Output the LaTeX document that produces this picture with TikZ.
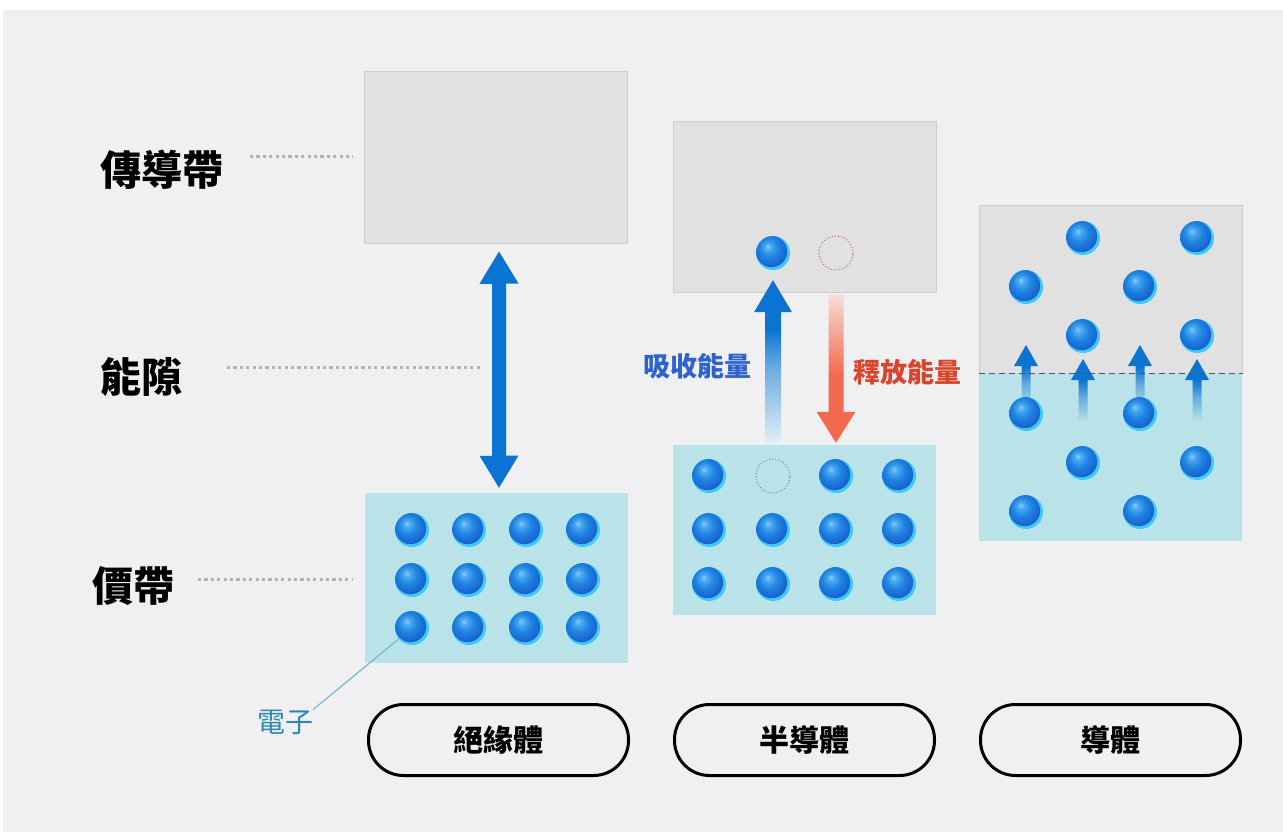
\documentclass[tikz,border=0pt]{standalone}
\usepackage{fontspec}
\newfontfamily\cjk{Noto Sans CJK TC}
\usetikzlibrary{calc}
\definecolor{bgpanel}{HTML}{F0F0F2}
\definecolor{cbfill}{HTML}{E1E1E1}
\definecolor{cbline}{HTML}{CDCDCD}
\definecolor{vbfill}{HTML}{B9E3E8}
\definecolor{aBlue}{HTML}{0B74D2}
\definecolor{aRed}{HTML}{F26A4E}
\definecolor{upEnd}{HTML}{E2F0F5}
\definecolor{dnEnd}{HTML}{F6DDD8}
\definecolor{eHi}{HTML}{86CDFB}
\definecolor{eLt}{HTML}{4AA8F0}
\definecolor{eMid}{HTML}{1E84E2}
\definecolor{eDeep}{HTML}{1A5CCB}
\definecolor{eRim}{HTML}{3CCBF5}
\definecolor{txtBlue}{HTML}{2E62CF}
\definecolor{txtRed}{HTML}{D8452C}
\definecolor{txtTeal}{HTML}{2E88AC}
\definecolor{lnTeal}{HTML}{72BACB}
\definecolor{dotGray}{HTML}{B3B3B6}
\definecolor{holeBrown}{HTML}{C0785A}
\definecolor{holeTeal}{HTML}{5E9FB0}
\definecolor{dashGray}{HTML}{4A5560}
\colorlet{upMid}{aBlue!55!upEnd}
\colorlet{smMid}{aBlue!50!vbfill}
\pgfdeclareradialshading{ebody}{\pgfpoint{-8bp}{10bp}}{color(0bp)=(eHi); color(5bp)=(eLt); color(14bp)=(eMid); color(27bp)=(eDeep); color(60bp)=(eDeep)}
\pgfdeclareverticalshading{upfade}{100bp}{color(0bp)=(upEnd); color(25bp)=(upEnd); color(48bp)=(upMid); color(60bp)=(aBlue); color(100bp)=(aBlue)}
\pgfdeclareverticalshading{smfade}{100bp}{color(0bp)=(vbfill); color(25bp)=(vbfill); color(45bp)=(smMid); color(58bp)=(aBlue); color(100bp)=(aBlue)}
\pgfdeclareverticalshading{dnfade}{100bp}{color(0bp)=(aRed); color(48bp)=(aRed); color(75bp)=(dnEnd); color(100bp)=(dnEnd)}
% gradient arrow: shading, tip, half head, head length, half shaft, shaft length
\newcommand\garrow[6]{\shade[shading=#1] (#2) -- ++(#3,#4) -- ++({-(#3-#5)},0) -- ++(0,#6) -- ++({-2*#5},0) -- ++(0,{-(#6)}) -- ++({-(#3-#5)},0) -- cycle;}
\tikzset{
  cbox/.style={rectangle, fill=cbfill, draw=cbline, line width=1pt, minimum width=263pt, inner sep=0pt},
  vbox/.style={rectangle, fill=vbfill, minimum width=263pt, inner sep=0pt},
  electron/.style={circle, minimum size=34pt, inner sep=0pt, fill=eRim,
    path picture={\shade[shading=ebody] ([xshift=-1.4pt,yshift=1.4pt]path picture bounding box.center) circle[radius=15.6pt];}},
  hole/.style={circle, minimum size=34pt, inner sep=0pt, draw=#1, line width=1.5pt, dash pattern=on 0pt off 3pt, line cap=round},
  pill/.style={draw=black, line width=3pt, rounded corners=35pt, minimum width=260pt, minimum height=71pt, inner sep=0pt, font=\cjk\bfseries\fontsize{30}{30}\selectfont},
  biglabel/.style={inner sep=0pt, font=\cjk\bfseries\fontsize{41}{41}\selectfont, text=black},
  energylabel/.style={inner sep=0pt, font=\cjk\bfseries\fontsize{27}{27}\selectfont},
  dotline/.style={draw=dotGray, line width=3pt, dash pattern=on 3.2pt off 3.2pt},
}
\begin{document}
\begin{tikzpicture}[x=1pt,y=-1pt]
\useasboundingbox (0,0) rectangle (1283,832);
\fill[white] (0,0) rectangle (1283,832);
\fill[bgpanel] (3,10) rectangle (1283,832);

% left labels
\node[biglabel] (lc) at (162,170) {傳導帶};
\node[biglabel] (lg) at (141,377) {能隙};
\node[biglabel] (lv) at (133,586) {價帶};
\coordinate (d1a) at (250,157); \coordinate (d1b) at (353,157);
\coordinate (d2a) at (227,367); \coordinate (d2b) at (482,367);
\coordinate (d3a) at (198,579); \coordinate (d3b) at (352,579);
\draw[dotline] (d1a) -- (d1b);
\draw[dotline] (d2a) -- (d2b);
\draw[dotline] (d3a) -- (d3b);

% insulator
\node[cbox, minimum height=171pt] (ic) at (496,157.5) {};
\node[vbox, minimum height=170pt] (iv) at (496,578) {};
\coordinate (gapTop) at ([xshift=3pt,yshift=-8pt]ic.south);
\coordinate (gapBot) at ([xshift=3pt,yshift=5pt]iv.north);
\fill[aBlue] (gapTop) -- ++(19.5,32) -- ++(-12.5,0) -- ++(0,172) -- ++(12.5,0) -- (gapBot)
  -- ++(-19.5,-32) -- ++(12.5,0) -- ++(0,-172) -- ++(-12.5,0) -- cycle;
\foreach \r/\y in {1/530,2/580,3/628}
  \foreach \c/\x in {1/412,2/469,3/526,4/583}
    \node[electron] (i-\r-\c) at (\x,\y) {};
\node[inner sep=0pt, font=\cjk\fontsize{28}{28}\selectfont, text=txtTeal] (ez) at (285,722) {電子};
\draw[lnTeal, line width=1.2pt] (ez.north east) -- (i-3-1);

% semiconductor
\node[cbox, minimum height=170pt] (sc) at (804.5,207) {};
\node[vbox, minimum height=170pt] (sv) at (804.5,530) {};
\node[electron] (se) at (773,253) {};
\node[hole=holeBrown] (sh) at (836,253) {};
\coordinate (upTip) at ([yshift=-10pt]se.south);
\coordinate (dnTip) at ([yshift=2pt]sv.north -| sh);
\garrow{upfade}{upTip}{19}{32}{8}{131}
\garrow{dnfade}{dnTip}{19.5}{-31}{7.5}{-117}
\node[energylabel, text=txtBlue] (absorb) at (697,366) {吸收能量};
\node[energylabel, text=txtRed] (release) at (907,372) {釋放能量};
\node[hole=holeTeal] (vh) at (773,476) {};
\foreach \n/\x/\y in {a/709/476,b/836/476,c/899/476,d/709/530,e/773/530,f/836/530,g/899/530,h/709/584,i/773/584,j/836/584,k/899/584}
  \node[electron] (s-\n) at (\x,\y) {};

% conductor
\node[cbox, minimum height=168pt] (ct) at (1110.5,289) {};
\node[vbox, minimum height=168pt] (cv) at (1110.5,457) {};
\coordinate (t1) at (1026,345);
\coordinate (t2) at (1083,359);
\coordinate (t3) at (1140,345);
\coordinate (t4) at (1197,359);
\garrow{smfade}{t1}{12}{21}{4.5}{44}
\garrow{smfade}{t2}{12}{21}{4.5}{42}
\garrow{smfade}{t3}{12}{21}{4.5}{44}
\garrow{smfade}{t4}{12}{21}{4.5}{42}
\draw[dashGray, line width=1.8pt, dash pattern=on 6pt off 4pt] (ct.south west) -- (ct.south east);
\foreach \n/\x/\y in {a/1083/238,b/1197/238,c/1026/287,d/1140/287,e/1083/336,f/1197/336,g/1026/414,h/1140/414,i/1083/463,j/1197/463,k/1026/512,l/1140/512}
  \node[electron] (c-\n) at (\x,\y) {};

% buttons
\node[pill] (b1) at (498.5,740) {絕緣體};
\node[pill] (b2) at (804.5,740) {半導體};
\node[pill] (b3) at (1110.5,740) {導體};
\end{tikzpicture}
\end{document}
